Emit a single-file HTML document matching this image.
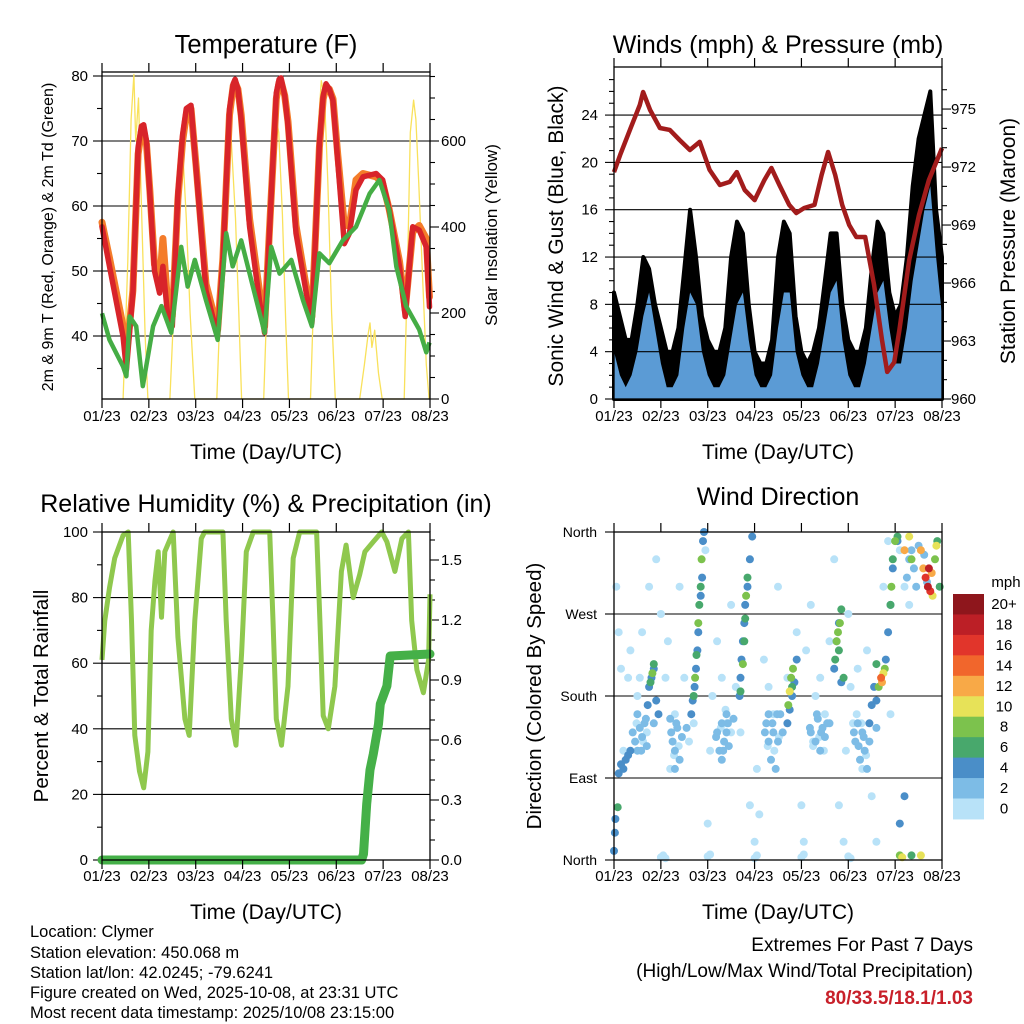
<!DOCTYPE html>
<html><head><meta charset="utf-8"><title>Station meteogram</title>
<style>
html,body{margin:0;padding:0;background:#fff;}
svg{display:block;font-family:"Liberation Sans",Arial,sans-serif;}
</style></head>
<body>
<svg id="chart" width="1024" height="1024" viewBox="0 0 1024 1024" xmlns="http://www.w3.org/2000/svg">
<rect x="0" y="0" width="1024" height="1024" fill="#fff"/>
<g id="layer"></g>
<g font-size="16.5" fill="#000">
<text x="30" y="937">Location: Clymer</text>
<text x="30" y="958">Station elevation: 450.068 m</text>
<text x="30" y="978">Station lat/lon: 42.0245; -79.6241</text>
<text x="30" y="998">Figure created on Wed, 2025-10-08, at 23:31 UTC</text>
<text x="30" y="1018">Most recent data timestamp: 2025/10/08 23:15:00</text>
</g>
<g font-size="19" text-anchor="end">
<text x="973" y="951">Extremes For Past 7 Days</text>
<text x="973" y="977">(High/Low/Max Wind/Total Precipitation)</text>
<text x="973" y="1004" fill="#c8202a" font-weight="bold">80/33.5/18.1/1.03</text>
</g>
</svg>
<script>
// ---------- data ----------
const dayLabels = ["01/23","02/23","03/23","04/23","05/23","06/23","07/23","08/23"];
const tempT  = [0,0.16,0.45,0.52,0.66,0.77,0.84,0.89,0.95,1.02,1.12,1.23,1.3,1.41,1.5,1.62,1.72,1.8,1.9,2.01,2.22,2.47,2.58,2.72,2.8,2.84,2.9,2.97,3.15,3.36,3.47,3.58,3.72,3.78,3.82,3.9,3.97,4.14,4.36,4.48,4.64,4.72,4.78,4.85,4.93,5.03,5.17,5.28,5.42,5.57,5.85,5.99,6.13,6.35,6.47,6.63,6.77,6.92,6.99];
const temp2m = [56.8,50.7,39.9,34.8,46.6,69,72.3,72.5,70,62,50,46.6,50.7,42.5,41.5,62,71,75,75.5,65.5,47,40,51.8,74.9,78.8,79.5,78,73.3,56.8,45.5,40.5,56.8,77.4,79.5,79.7,77,72.3,55.8,46.6,42,69.6,77,78.8,78,76.2,67,54.2,55.8,62.5,64.5,65,64,59.4,50.7,43,56.8,56.3,53.7,44.5];
const temp9m = [57.5,52,41.5,37,47,68,71.5,71.5,69.5,62.5,51,48,55,44,43,61,70,74,75,66,48,41,52,74,78.5,79,78,74,58,47,41.5,57,76.5,79,79.2,77,73,57,47.5,43,69,76.5,78.3,78,76.5,68,57,57,64,65,64.5,63.5,59.5,51.5,44,56,57,55,46];
const dewT   = [0,0.16,0.45,0.52,0.59,0.73,0.87,1.09,1.27,1.48,1.69,1.83,1.98,2.22,2.47,2.65,2.79,2.97,3.15,3.47,3.61,3.79,4.04,4.29,4.48,4.64,4.85,5.14,5.42,5.71,5.92,6.13,6.28,6.49,6.77,6.92,6.99];
const dewF   = [43.5,39.4,35.3,33.8,43,41.5,32.3,41.5,44.6,40.5,53.7,47.6,51.7,45.5,39.4,55.8,50.7,54.7,49.6,40.5,53.7,49.6,51.7,45.5,41.5,52.7,51.2,54.7,56.8,61.9,64,59.4,50.7,44.6,41,37.5,39];
const solarT = [0.45,0.55,0.62,0.68,0.72,0.78,0.85,0.92,0.98, 1.45,1.55,1.62,1.68,1.73,1.8,1.88,1.98, 2.45,2.55,2.63,2.7,2.76,2.85,2.92,2.98, 3.45,3.55,3.63,3.7,3.77,3.85,3.92,3.98, 4.45,4.55,4.62,4.68,4.75,4.82,4.9,4.98, 5.5,5.6,5.68,5.72,5.76,5.82,5.9,5.98, 6.45,6.52,6.58,6.65,6.7,6.76,6.85,6.92,6.98];
const solarW = [0,320,650,755,600,700,420,150,0, 0,250,480,593,560,420,200,0, 0,300,560,656,600,420,200,0, 0,320,580,663,620,430,180,0, 0,350,640,740,700,500,200,0, 0,80,150,177,120,160,60,0, 0,300,620,695,650,500,260,80,0];
const windStep = 0.125;
const sonicWind = [4,2,1,2,4,7,9,6, 3,1,1,2,6,9,8,4, 2,1,1,2,5,8,9,5, 2,1,1,2,6,9,9,4, 2,1,1,3,6,9,10,5, 2,1,1,3,6,9,10,6, 3,3,6,10,13,16,18,12, 7];
const gustWind  = [9,7,5,5,8,12,11,8, 6,4,4,6,11,16,12,7, 5,4,4,6,12,15,14,8, 4,3,3,5,12,15,14,7, 4,3,4,6,10,14,14,8, 5,4,4,6,11,15,14,9, 7,8,12,18,22,24,26,16, 12];
const presT = [0,0.13,0.34,0.55,0.62,0.77,0.98,1.19,1.4,1.62,1.83,2.04,2.26,2.47,2.62,2.79,3.0,3.21,3.36,3.53,3.74,3.89,4.06,4.28,4.43,4.57,4.72,4.87,5.02,5.17,5.36,5.55,5.72,5.83,5.98,6.09,6.3,6.51,6.72,7.0];
const presMb = [971.74,972.62,973.92,975.21,975.88,974.95,974.02,973.92,973.4,972.88,973.3,971.85,971.07,971.23,971.74,970.81,970.29,971.33,971.95,971.07,970.04,969.62,969.88,970.04,971.59,972.78,971.59,970.04,969.0,968.38,968.38,965.9,963.05,961.4,961.9,963.57,967.19,969.52,971.33,972.98];
const rhT = [0,0.06,0.16,0.27,0.45,0.56,0.63,0.7,0.8,0.89,0.98,1.05,1.13,1.2,1.27,1.34,1.52,1.62,1.77,1.86,1.98,2.12,2.19,2.58,2.65,2.76,2.86,2.98,3.08,3.23,3.58,3.65,3.72,3.83,3.97,4.08,4.22,4.58,4.65,4.72,4.83,4.97,5.11,5.21,5.36,5.5,5.61,5.79,5.97,6.08,6.25,6.4,6.54,6.61,6.72,6.86,6.97,7.0];
const rhPct = [61,73,83,92,99,100,73,38,27,22,33,70,85,94,74,94,100,68,43,38,73,98,100,100,73,43,35,63,94,100,100,73,43,35,53,92,100,100,73,44,40,53,88,96,80,87,94,97,100,97,88,98,100,73,58,51,61,81];
const rainT = [0,5.54,5.58,5.65,5.72,5.79,5.9,5.94,6.08,6.15,7.0];
const rainIn = [0,0,0.03,0.28,0.45,0.53,0.68,0.78,0.87,1.02,1.03];
const dirT = [0.05,0.1,0.15,0.3,0.35,0.5,0.55,0.6,0.7,0.75,0.9,1.0,1.1,1.15,1.3,1.4,1.5,1.6,1.7,1.95,2.0,2.05,2.1,2.2,2.3,2.4,2.5,2.6,2.7,2.9,3.0,3.05,3.2,3.3,3.4,3.5,3.6,3.7,3.9,4.0,4.05,4.1,4.2,4.25,4.3,4.4,4.5,4.6,4.7,4.8,4.9,5.0,5.05,5.1,5.2,5.3,5.4,5.5,5.6,5.75,5.85,6.1,6.2,6.4,6.3,0.2,1.2,3.1,4.95,5.9,
 0.45,0.5,0.55,0.6,0.65,0.5,0.7,1.25,1.3,1.35,1.2,1.4,1.3,2.2,2.25,2.3,2.35,2.4,2.45,2.3,2.4,3.25,3.3,3.35,3.4,3.45,3.5,3.55,3.3,4.2,4.3,4.35,4.4,4.45,4.5,4.55,5.15,5.2,5.25,5.3,5.35,5.4,5.45,6.25,6.3,6.35,6.4,6.45,6.5,
 0.4,0.48,0.58,0.62,0.68,1.22,1.28,1.33,1.38,1.45,2.18,2.28,2.33,2.38,2.43,2.5,3.22,3.28,3.38,3.42,3.48,3.52,4.18,4.25,4.33,4.38,4.42,4.48,5.12,5.18,5.22,5.28,5.33,5.38,1.0,1.05,1.1,2.0,2.05,3.0,3.05,4.0,4.05,5.0,5.05,0.85,1.55,2.55,3.6,4.6,5.6,
 0.0,0.02,0.03,0.1,0.15,0.2,0.25,0.3,0.35,0.72,0.75,0.8,0.85,0.9,0.95,1.65,1.68,1.72,1.75,1.78,1.8,1.85,1.88,1.9,1.92,2.68,2.7,2.72,2.75,2.78,2.8,2.85,2.9,2.95,3.7,3.75,3.8,3.85,3.9,4.7,4.75,4.8,4.85,5.45,5.5,5.55,5.6,5.8,5.85,5.9,5.95,6.05,6.1,6.2,
 0.08,0.78,0.82,0.85,1.7,1.73,1.76,1.8,1.82,1.85,1.87,2.7,2.75,2.78,2.8,2.82,2.85,3.72,3.75,3.78,3.8,3.82,4.72,4.75,4.78,4.8,4.82,4.85,4.9,5.65,5.7,5.72,5.75,5.78,5.6,5.9,5.92,5.95,6.0,6.05,
 6.2,6.3,6.35,6.55,6.6,6.65,6.7,6.72,6.75,6.8,6.85,6.9,6.95,6.1,6.15,6.35,6.55,6.62,6.68,6.78,6.88];
const dirDeg = [300,250,210,200,230,180,200,250,140,300,330,270,200,240,160,300,200,130,150,340,40,120,180,240,200,150,280,190,140,60,20,100,220,190,160,300,140,200,250,60,20,230,280,130,180,200,160,240,330,60,20,270,190,150,210,100,230,70,20,300,350,340,300,320,280,120,100,50,120,160,
 130,120,145,135,150,160,125,130,120,145,155,110,100,140,120,150,130,160,125,110,140,150,130,110,140,100,130,160,160,140,130,155,120,145,135,150,130,150,110,140,120,100,130,310,330,340,320,300,345,
 140,150,120,130,155,140,115,150,125,135,135,145,120,165,150,140,140,125,150,120,160,135,145,125,160,135,140,120,140,160,125,150,135,115,3,5,2,4,6,2,5,3,6,4,2,150,145,155,140,150,145,
 10,30,45,95,105,100,110,115,120,170,190,200,210,175,160,160,175,190,210,230,250,290,310,350,360,180,200,220,240,260,280,300,330,355,150,165,180,195,220,210,240,260,195,150,170,190,175,220,250,280,320,350,40,70,
 58,195,205,215,180,200,225,260,280,300,330,185,215,240,265,290,310,170,185,200,190,210,220,240,250,230,260,275,200,190,200,195,205,210,215,280,300,330,350,355,
 340,355,330,340,320,310,300,320,295,290,330,350,300,5,3,5,5,335,305,315,345];
const dirMph = [1,1,1,1,1,1,1,1,1,1,1,1,1,1,1,1,1,1,1,1,1,1,1,1,1,1,1,1,1,1,1,1,1,1,1,1,1,1,1,1,1,1,1,1,1,1,1,1,1,1,1,1,1,1,1,1,1,1,1,1,1,1,1,1,1,1,1,1,1,1,
 3,3,3,3,3,3,3,3,3,3,3,3,3,3,3,3,3,3,3,3,3,3,3,3,3,3,3,3,3,3,3,3,3,3,3,3,3,3,3,3,3,3,3,3,3,3,3,3,3,
 3,1,3,1,3,3,1,3,1,3,3,1,3,1,3,1,3,1,3,1,3,1,3,1,3,1,3,1,3,1,3,1,3,1,1,1,1,1,1,1,1,1,1,1,1,3,3,3,3,3,3,
 5,5,5,5,5,5,5,5,5,5,5,5,5,5,5,5,5,5,5,5,5,5,5,5,5,5,5,5,5,5,5,5,5,5,5,5,5,5,5,5,5,5,5,5,5,5,5,5,5,5,5,5,5,5,
 7,7,9,7,7,9,7,9,7,7,9,7,9,7,7,9,7,9,11,9,7,9,7,9,9,7,9,7,7,9,14,12,11,9,7,7,9,7,9,7,
 13,11,9,13,13,16,19,18,17,11,9,7,7,9,11,7,11,3,3,12,10];
const speedBins = ["0","2","4","6","8","10","12","14","16","18","20+"];
const speedColors = ["#b8e2f8","#7dbce6","#4a8ec8","#48a86c","#7cc24d","#e7e258","#f8a947","#f1662c","#e1352b","#bc1f26","#8e161c"];

// ---------- helpers ----------
const NS = "http://www.w3.org/2000/svg";
const layer = document.getElementById("layer");
function mk(tag, attrs, name, parent) {
  const el = document.createElementNS(NS, tag);
  for (const k in attrs) el.setAttribute(k, attrs[k]);
  
  
  (parent || layer).appendChild(el);
  return el;
}
function txt(x, y, s, size, anchor, name, rot) {
  const a = {x: x, y: y, "font-size": size, "text-anchor": anchor || "middle", fill: "#000"};
  if (rot) a.transform = "rotate(" + rot + " " + x + " " + y + ")";
  const el = mk("text", a, name);
  el.textContent = s;
  return el;
}
function pts(xs, ys, fx, fy) { return xs.map((v, i) => fx(v).toFixed(1) + "," + fy(ys[i]).toFixed(1)).join(" "); }
function frame(x0, y0, x1, y1, name) {
  mk("rect", {x: x0, y: y0, width: x1 - x0, height: y1 - y0, fill: "none", stroke: "#000", "stroke-width": 1.3}, name);
}
function xAxis(x0, x1, y0, y1, labY, name) {
  for (let i = 0; i < dayLabels.length; i++) {
    const x = x0 + (x1 - x0) * i / 7;
    mk("line", {x1: x, y1: y1, x2: x, y2: y1 + 9, stroke: "#000", "stroke-width": 1.2}, name + "-tick-bottom");
    mk("line", {x1: x, y1: y0, x2: x, y2: y0 - 9, stroke: "#000", "stroke-width": 1.2}, name + "-tick-top");
    txt(x, labY, dayLabels[i], 15, "middle", name + "-label");
  }
}
function hgrid(x0, x1, y, name) { mk("line", {x1: x0, y1: y, x2: x1, y2: y, stroke: "#000", "stroke-width": 1.1}, name); }
function ytick(x, y, len, name) { mk("line", {x1: x, y1: y, x2: x + len, y2: y, stroke: "#000", "stroke-width": 1.1}, name); }

// ---------- panel 1: temperature ----------
const T = {x0: 102, x1: 430, y0: 72, y1: 399};
const tx = t => T.x0 + t * (T.x1 - T.x0) / 7;
const ty = v => 336 - (v - 40) * 6.5;
const sy = s => 399 - s * 0.43;
txt(266, 53, "Temperature (F)", 25.5, "middle", "temperature-title");
for (let v = 40; v <= 80; v += 10) { hgrid(T.x0, T.x1, ty(v), "temp-gridline"); txt(88, ty(v) + 5, String(v), 15, "end", "temp-y-label"); }
for (let v = 35; v <= 80; v += 5) ytick(T.x0, ty(v), -(v % 10 ? 5 : 9), "temp-y-tick");
for (let s = 0; s <= 750; s += 50) ytick(T.x1, sy(s), (s % 200 ? 5 : 9), "solar-y-tick");
for (let s = 0; s <= 600; s += 200) txt(441, sy(s) + 5, String(s), 15, "start", "solar-y-label");
mk("polyline", {points: pts(solarT, solarW, tx, sy), fill: "none", stroke: "#f9e15b", "stroke-width": 1.3, "stroke-linejoin": "round"}, "solar-line");
mk("polyline", {points: pts(tempT, temp9m, tx, ty), fill: "none", stroke: "#f47c2a", "stroke-width": 7, "stroke-linejoin": "round", "stroke-linecap": "round"}, "temp-9m-line");
mk("polyline", {points: pts(tempT, temp2m, tx, ty), fill: "none", stroke: "#d8242a", "stroke-width": 5.5, "stroke-linejoin": "round", "stroke-linecap": "round"}, "temp-2m-line");
mk("polyline", {points: pts(dewT, dewF, tx, ty), fill: "none", stroke: "#45ad45", "stroke-width": 4.5, "stroke-linejoin": "round"}, "dewpoint-line");
frame(T.x0, T.y0, T.x1, T.y1, "temp-plot-frame");
xAxis(T.x0, T.x1, T.y0, T.y1, 421, "temp-x");
txt(266, 459, "Time (Day/UTC)", 21, "middle", "temp-x-title");
txt(53, 237, "2m & 9m T (Red, Orange) & 2m Td (Green)", 16, "middle", "temp-y-title", -90);
txt(497, 235, "Solar Insolation (Yellow)", 17, "middle", "solar-y-title", -90);

// ---------- panel 2: winds & pressure ----------
const W = {x0: 614, x1: 942, y0: 67, y1: 399};
const wx = t => W.x0 + t * (W.x1 - W.x0) / 7;
const wy = v => 399 - v * 11.83;
const py = p => 399 - (p - 960) * 19.33;
txt(778, 53, "Winds (mph) & Pressure (mb)", 25, "middle", "winds-title");
const windTimes = sonicWind.map((v, i) => i * windStep);
let gp = "M" + wx(0) + "," + wy(0);
gustWind.forEach((v, i) => { gp += " L" + wx(windTimes[i]).toFixed(1) + "," + wy(v).toFixed(1); });
gp += " L" + wx(windTimes[windTimes.length - 1]) + "," + wy(0) + " Z";
mk("path", {d: gp, fill: "#000", stroke: "#000", "stroke-width": 4, "stroke-linejoin": "round"}, "gust-area");
let bp = "M" + wx(0) + "," + wy(0);
sonicWind.forEach((v, i) => { bp += " L" + wx(windTimes[i]).toFixed(1) + "," + wy(v).toFixed(1); });
bp += " L" + wx(windTimes[windTimes.length - 1]) + "," + wy(0) + " Z";
mk("path", {d: bp, fill: "#5b9bd5"}, "sonic-wind-area");
for (let v = 4; v <= 24; v += 4) hgrid(W.x0, W.x1, wy(v), "wind-gridline");
for (let v = 0; v <= 27; v++) ytick(W.x0, wy(v), -(v % 4 ? 5 : 9), "wind-y-tick");
for (let v = 0; v <= 24; v += 4) txt(598, wy(v) + 5, String(v), 15, "end", "wind-y-label");
for (let p = 960; p <= 976; p++) ytick(W.x1, py(p), (p % 3 ? 5 : 9), "pressure-y-tick");
for (let p = 960; p <= 975; p += 3) txt(951, py(p) + 5, String(p), 15, "start", "pressure-y-label");
mk("polyline", {points: pts(presT, presMb, wx, py), fill: "none", stroke: "#a21c1c", "stroke-width": 4.5, "stroke-linejoin": "round"}, "pressure-line");
frame(W.x0, W.y0, W.x1, W.y1, "wind-plot-frame");
xAxis(W.x0, W.x1, W.y0, W.y1, 421, "wind-x");
txt(778, 459, "Time (Day/UTC)", 21, "middle", "wind-x-title");
txt(563, 236, "Sonic Wind & Gust (Blue, Black)", 21, "middle", "wind-y-title", -90);
txt(1015, 241, "Station Pressure (Maroon)", 21, "middle", "pressure-y-title", -90);

// ---------- panel 3: RH & precipitation ----------
const R = {x0: 102, x1: 430, y0: 532, y1: 860};
const ry = h => 860 - h * 3.28;
const pry = p => 860 - p * 200;
txt(266, 512, "Relative Humidity (%) & Precipitation (in)", 25, "middle", "rh-title");
for (let v = 0; v <= 100; v += 20) { if (v > 0 && v < 100) hgrid(R.x0, R.x1, ry(v), "rh-gridline"); txt(88, ry(v) + 5, String(v), 15, "end", "rh-y-label"); }
for (let v = 0; v <= 100; v += 10) ytick(R.x0, ry(v), -(v % 20 ? 5 : 9), "rh-y-tick");
for (let k = 0; k <= 16; k++) ytick(R.x1, pry(k * 0.1), (k % 3 ? 5 : 9), "rain-y-tick");
for (let k = 0; k <= 5; k++) txt(441, pry(k * 0.3) + 5, (k * 0.3).toFixed(1), 15, "start", "rain-y-label");
mk("polyline", {points: pts(rhT, rhPct, tx, ry), fill: "none", stroke: "#8fc84e", "stroke-width": 5, "stroke-linejoin": "round"}, "rh-line");
mk("polyline", {points: pts(rainT, rainIn, tx, pry), fill: "none", stroke: "#45b048", "stroke-width": 9, "stroke-linejoin": "round", "stroke-linecap": "round"}, "rain-line");
frame(R.x0, R.y0, R.x1, R.y1, "rh-plot-frame");
xAxis(R.x0, R.x1, R.y0, R.y1, 881, "rh-x");
txt(266, 919, "Time (Day/UTC)", 21, "middle", "rh-x-title");
txt(48, 696, "Percent & Total Rainfall", 20.5, "middle", "rh-y-title", -90);

// ---------- panel 4: wind direction ----------
const D = {x0: 614, x1: 942, y0: 532, y1: 860};
const dy = d => 860 - d * 328 / 360;
txt(778, 505, "Wind Direction", 25, "middle", "direction-title");
const dirNames = ["North","East","South","West","North"];
for (let k = 0; k <= 4; k++) {
  if (k > 0 && k < 4) hgrid(D.x0, D.x1, dy(k * 90), "direction-gridline");
  ytick(D.x0, dy(k * 90), -9, "direction-y-tick");
  txt(597, dy(k * 90) + 5, dirNames[k], 14, "end", "direction-y-label");
}
function speedColor(s) { return speedColors[Math.min(10, Math.floor(s / 2))]; }
const order = dirT.map((v, i) => i).sort((a, b) => dirMph[a] - dirMph[b]);
order.forEach(i => {
  mk("circle", {cx: wx(dirT[i]).toFixed(1), cy: dy(dirDeg[i]).toFixed(1), r: 4, fill: speedColor(dirMph[i])}, "direction-point");
});
frame(D.x0, D.y0, D.x1, D.y1, "direction-plot-frame");
xAxis(D.x0, D.x1, D.y0, D.y1, 881, "dir-x");
txt(778, 919, "Time (Day/UTC)", 21, "middle", "direction-x-title");
txt(541, 696, "Direction (Colored By Speed)", 20.5, "middle", "direction-y-title", -90);
txt(1006, 587, "mph", 15, "middle", "colorbar-title");
const cbTop = 594, cbH = 20.45;
for (let k = 0; k < speedBins.length; k++) {
  const idx = speedBins.length - 1 - k;
  mk("rect", {x: 953, y: cbTop + k * cbH, width: 31, height: cbH + 0.5, fill: speedColors[idx]}, "colorbar-box");
  txt(1004, cbTop + k * cbH + 15, speedBins[idx], 15, "middle", "colorbar-label");
}
</script>
</body></html>
